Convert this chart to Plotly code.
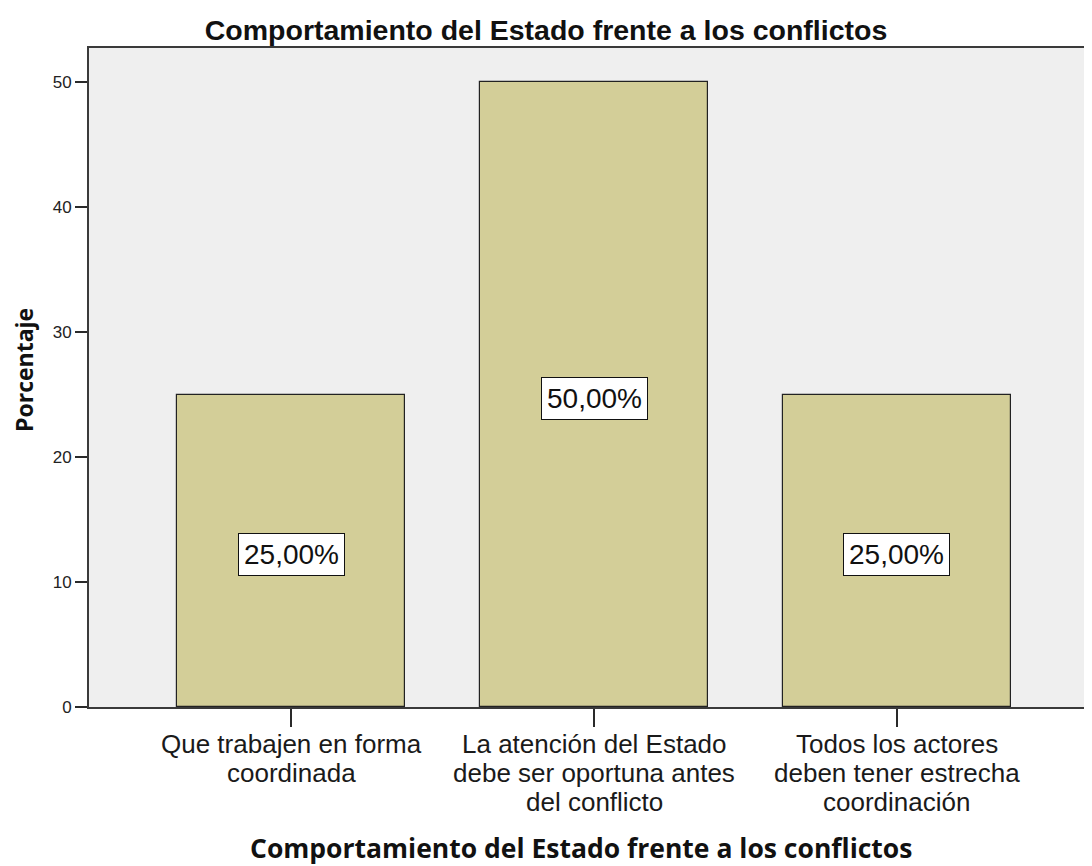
import plotly.graph_objects as go

# ---- data ----
categories = [0, 1, 2]
category_lines = [
    ["Que trabajen en forma", "coordinada"],
    ["La atención del Estado", "debe ser oportuna antes", "del conflicto"],
    ["Todos los actores", "deben tener estrecha", "coordinación"],
]
percentages = [25.0, 50.0, 25.0]
value_labels = ["25,00%", "50,00%", "25,00%"]
y_ticks = [0, 10, 20, 30, 40, 50]
title_text = "Comportamiento del Estado frente a los conflictos"
x_title = "Comportamiento del Estado frente a los conflictos"
y_title = "Porcentaje"

# the page adds an 8px body margin, so the figure is 8px smaller
OFF = 8
W, H = 1092 - OFF, 866 - OFF
ML, MR, MT = 89 - OFF, 0, 48 - OFF
PLOT_BOTTOM = 707 - OFF
MB = H - PLOT_BOTTOM

fig = go.Figure()
fig.add_trace(go.Bar(
    x=categories, y=percentages, width=0.75,
    marker=dict(color="#d3ce98", line=dict(color="#222222", width=1.2)),
    hoverinfo="skip", showlegend=False,
))

annotations = []
# value labels (boxed) at the middle of each bar
for c, v, t in zip(categories, percentages, value_labels):
    annotations.append(dict(
        x=c, y=v / 2, xref="x", yref="y", text=t, showarrow=False,
        font=dict(family="Liberation Sans, Arial", size=28, color="#111111"),
        bgcolor="white", bordercolor="#111111", borderwidth=1, borderpad=5,
        xanchor="center", yanchor="middle", yshift=-4,
    ))

# category labels, one line per annotation (tight line spacing)
LABEL_SIZE = 26
LINE_GAP = 29.2
for c, lines in zip(categories, category_lines):
    for j, ln in enumerate(lines):
        annotations.append(dict(
            x=c, y=0, xref="x", yref="paper", text=ln, showarrow=False,
            font=dict(family="Liberation Sans, Arial", size=LABEL_SIZE, color="#1a1a1a"),
            xanchor="center", yanchor="middle", yshift=-(37 + j * LINE_GAP),
        ))

plot_w = W - ML - MR
plot_h = H - MT - MB
# x axis title
annotations.append(dict(
    x=(581 - OFF - ML) / plot_w, y=(PLOT_BOTTOM - (848 - OFF)) / plot_h,
    xref="paper", yref="paper",
    text=f"<b>{x_title}</b>", showarrow=False,
    font=dict(family="Open Sans, DejaVu Sans", size=26.5, color="#111111"),
    xanchor="center", yanchor="middle",
))
# y axis title
annotations.append(dict(
    x=(24 - OFF - ML) / plot_w, y=(PLOT_BOTTOM - (370 - OFF)) / plot_h,
    xref="paper", yref="paper",
    text=f"<b>{y_title}</b>", showarrow=False, textangle=-90,
    font=dict(family="Open Sans, DejaVu Sans", size=23, color="#111111"),
    xanchor="center", yanchor="middle",
))

fig.update_layout(
    width=W, height=H,
    margin=dict(l=ML, r=MR, t=MT, b=MB, pad=0),
    paper_bgcolor="white", plot_bgcolor="#efefef",
    title=dict(text=f"<b>{title_text}</b>", x=(546 - OFF) / W, xref="container",
               xanchor="center", y=1 - (30 - OFF) / H, yref="container", yanchor="middle",
               font=dict(family="Liberation Sans, Arial", size=28.5, color="#111111")),
    xaxis=dict(range=[-0.6667, 2.6436], tickvals=categories, showticklabels=False,
               ticks="outside", ticklen=18, tickwidth=2, tickcolor="#2a2a2a",
               showline=True, linecolor="#3a3a3a", linewidth=2, mirror=True,
               showgrid=False, zeroline=False, fixedrange=True),
    yaxis=dict(range=[0, 52.72], tickvals=y_ticks, ticks="outside", ticklen=12,
               tickwidth=2, tickcolor="#2a2a2a",
               tickfont=dict(family="Liberation Sans, Arial", size=17, color="#222222"),
               showline=True, linecolor="#3a3a3a", linewidth=2,
               showgrid=False, zeroline=False, fixedrange=True),
    annotations=annotations,
    bargap=0,
)

fig.write_html("out.html")
